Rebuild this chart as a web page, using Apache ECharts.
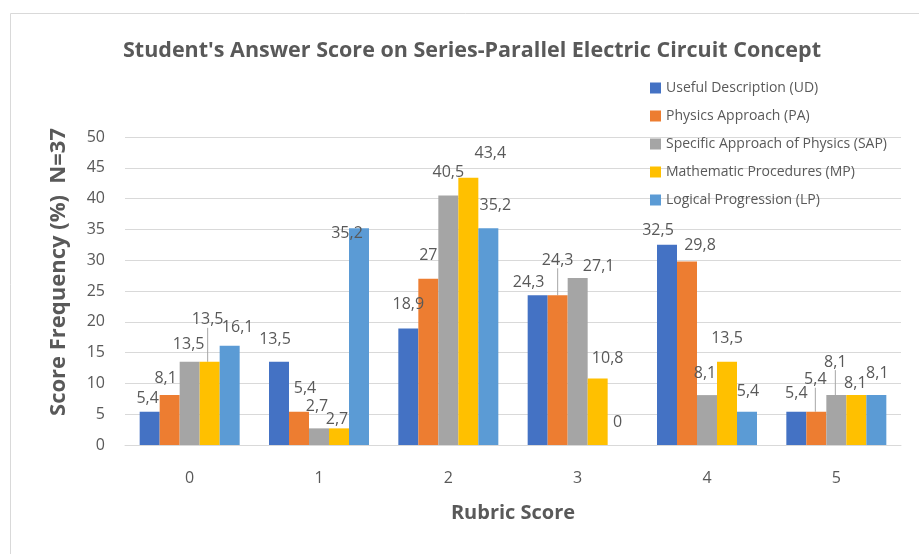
<!DOCTYPE html>
<html>
<head>
<meta charset="utf-8">
<script src="https://cdn.jsdelivr.net/npm/echarts@6/dist/echarts.min.js"></script>
<style>
	html, body { margin: 0; padding: 0; background: #fff; }
	#chart { width: 919px; height: 554px; }
</style>
</head>
<body>
<div id="chart"></div>
<script>
let categories = ['0', '1', '2', '3', '4', '5'];
let seriesNames = [
	'Useful Description (UD)',
	'Physics Approach (PA)',
	'Specific Approach of Physics (SAP)',
	'Mathematic Procedures (MP)',
	'Logical Progression (LP)'
];
let udValues = [5.4, 13.5, 18.9, 24.3, 32.5, 5.4];
let paValues = [8.1, 5.4, 27, 24.3, 29.8, 5.4];
let sapValues = [13.5, 2.7, 40.5, 27.1, 8.1, 8.1];
let mpValues = [13.5, 2.7, 43.4, 10.8, 13.5, 8.1];
let lpValues = [16.1, 35.2, 35.2, 0, 5.4, 8.1];
let yTicks = [0, 5, 10, 15, 20, 25, 30, 35, 40, 45, 50];

// label nudges, like the excel labels were dragged
let labelShift = [
	[[-2, 0], [-4, -9], [0, -11], [-9, 0], [-9, -1], [0, -5]],
	[[-4, -4], [6, -10], [0, -10], [0, -22], [13, -3], [-1, -19]],
	[[-1, -4], [-2, -9], [0, -10], [21, 1], [-2, -9], [-1, -20]],
	[[-2, -29], [-2, 4], [22, -11], [10, -7], [0, -10], [-1, 1]],
	[[8, -5], [-12, 18], [7, -10], [0, -10], [1, -7], [1, -9]]
];
let leaders = [[], [3, 5], [5], [0], []];

let allValues = [udValues, paValues, sapValues, mpValues, lpValues];
let colors = ['#4472C4', '#ED7D31', '#A5A5A5', '#FFC000', '#5B9BD5'];

let myChart = echarts.init(document.getElementById('chart'));

let series = [];
for (let i = 0; i < allValues.length; i++) {
	let data = [];
	for (let j = 0; j < allValues[i].length; j++) {
		let item = { value: allValues[i][j] };
		if (leaders[i].indexOf(j) >= 0) {
			item.labelLine = { show: true };
		}
		data.push(item);
	}
	series.push({
		name: seriesNames[i],
		type: 'bar',
		barWidth: 20,
		barGap: '0%',
		data: data,
		label: {
			show: true,
			position: 'top',
			distance: 5,
			color: '#595959',
			fontFamily: 'Open Sans',
			fontSize: 16,
			formatter: function (p) {
				return String(p.value).replace('.', ',');
			}
		},
		labelLine: {
			show: false,
			lineStyle: { color: '#a6a6a6', width: 1 }
		},
		labelLayout: function (params) {
			let s = labelShift[params.seriesIndex][params.dataIndex];
			return { dx: s[0], dy: s[1] };
		}
	});
}

let option = {
	animation: false,
	color: colors,
	title: {
		text: "Student's Answer Score on Series-Parallel Electric Circuit Concept",
		left: 467,
		textAlign: 'center',
		top: 35,
		textStyle: {
			color: '#595959',
			fontFamily: 'Open Sans',
			fontWeight: 'bold',
			fontSize: 21.5
		}
	},
	legend: {
		orient: 'vertical',
		left: 645,
		top: 75,
		itemWidth: 11,
		itemHeight: 11,
		itemGap: 12,
		icon: 'rect',
		textStyle: {
			color: '#595959',
			fontFamily: 'Open Sans',
			fontSize: 14,
			lineHeight: 16
		},
		data: seriesNames
	},
	grid: {
		left: 125,
		right: 18,
		top: 137,
		bottom: 109
	},
	xAxis: {
		type: 'category',
		data: categories,
		name: 'Rubric Score',
		nameLocation: 'middle',
		nameGap: 58,
		nameTextStyle: {
			color: '#595959',
			fontFamily: 'Open Sans',
			fontWeight: 'bold',
			fontSize: 20
		},
		axisLine: { lineStyle: { color: '#d9d9d9' } },
		axisTick: { show: false },
		axisLabel: {
			color: '#595959',
			fontFamily: 'Open Sans',
			fontSize: 16,
			margin: 25
		}
	},
	yAxis: {
		type: 'value',
		min: yTicks[0],
		max: yTicks[yTicks.length - 1],
		interval: 5,
		name: 'Score Frequency (%)  N=37',
		nameLocation: 'middle',
		nameGap: 55,
		nameTextStyle: {
			color: '#595959',
			fontFamily: 'Open Sans',
			fontWeight: 'bold',
			fontSize: 22,
			padding: [0, 0, 0, 38]
		},
		axisLine: { show: false },
		axisTick: { show: false },
		splitLine: { lineStyle: { color: '#d9d9d9' } },
		axisLabel: {
			color: '#595959',
			fontFamily: 'Open Sans',
			fontSize: 16,
			margin: 20
		}
	},
	graphic: [{
		type: 'rect',
		silent: true,
		shape: { x: 10.5, y: 13.5, width: 1000, height: 1000 },
		style: { fill: 'none', stroke: '#d9d9d9', lineWidth: 1 }
	}],
	series: series
};

myChart.setOption(option);
</script>
</body>
</html>
